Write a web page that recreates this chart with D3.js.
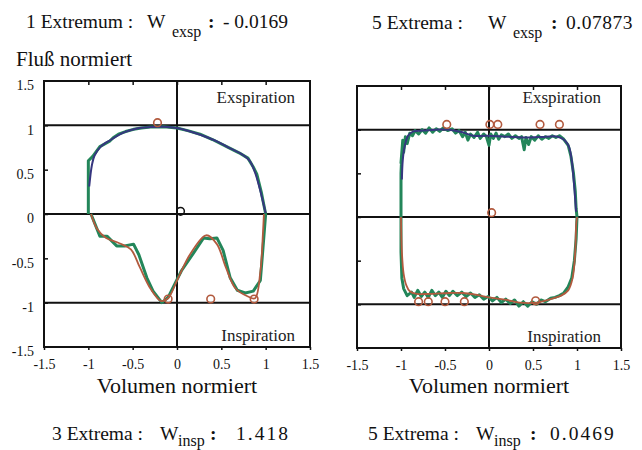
<!DOCTYPE html>
<html>
<head>
<meta charset="utf-8">
<script src="https://cdn.jsdelivr.net/npm/d3@7"></script>
<style>
  body { margin: 0; background: #fff; }
  svg { display: block; font-family: "Liberation Serif", "DejaVu Serif", serif; }
  .tick text { font-family: "Liberation Serif", serif; font-size: 14px; fill: #111; }
  .tick line { stroke: #111; stroke-width: 1.5; }
</style>
</head>
<body>
<script>
// tick values shared by both panels
var xTicks = [-1.5, -1, -0.5, 0, 0.5, 1, 1.5];
var yTicks = [-1.5, -1, -0.5, 0, 0.5, 1, 1.5];
var gridY = [-1, 0, 1];
var gridX = [0];

// left panel: measured (green) and fitted curves (blue = exspiration, red = inspiration)
var leftExpRaw = [[-1.0, 0], [-1.0, 0.6], [-0.95, 0.65], [-0.87, 0.76], [-0.76, 0.82], [-0.72, 0.86],
  [-0.66, 0.9], [-0.58, 0.93], [-0.49, 0.955], [-0.4, 0.97], [-0.3, 0.98], [-0.15, 0.985], [0, 0.97],
  [0.12, 0.94], [0.26, 0.9], [0.4, 0.84], [0.56, 0.76], [0.7, 0.69], [0.8, 0.63], [0.86, 0.53],
  [0.9, 0.45], [0.95, 0.25], [1.0, 0]];
var leftExpFit = [[-0.99, 0.31], [-0.96, 0.55], [-0.93, 0.66], [-0.86, 0.76], [-0.74, 0.84],
  [-0.6, 0.92], [-0.45, 0.965], [-0.3, 0.98], [-0.15, 0.985], [0, 0.97], [0.15, 0.93], [0.3, 0.88],
  [0.45, 0.82], [0.6, 0.74], [0.72, 0.68], [0.82, 0.6], [0.88, 0.47], [0.93, 0.3], [1.0, 0.01]];
var leftInspRaw = [[-0.97, 0], [-0.87, -0.25], [-0.79, -0.25], [-0.68, -0.36], [-0.59, -0.36],
  [-0.49, -0.34], [-0.43, -0.46], [-0.34, -0.72], [-0.27, -0.87], [-0.17, -1.0], [-0.1, -0.94],
  [-0.02, -0.78], [0.05, -0.64], [0.18, -0.45], [0.3, -0.27], [0.37, -0.28], [0.45, -0.27],
  [0.52, -0.41], [0.6, -0.72], [0.68, -0.86], [0.77, -0.89], [0.86, -0.87], [0.94, -0.75],
  [0.97, -0.38], [1.0, 0]];
var leftInspFit = [[-0.97, 0], [-0.9, -0.17], [-0.8, -0.27], [-0.65, -0.33], [-0.52, -0.4],
  [-0.42, -0.6], [-0.3, -0.84], [-0.18, -0.98], [-0.1, -0.95], [0, -0.75], [0.15, -0.45],
  [0.33, -0.24], [0.45, -0.34], [0.55, -0.6], [0.66, -0.84], [0.8, -0.93], [0.88, -0.95],
  [0.94, -0.65], [0.97, -0.2], [0.98, 0]];
var leftExtrema = [[-0.22, 1.03], [-0.1, -0.96], [0.38, -0.96], [0.87, -0.96]];
var leftCentre = [[0.04, 0.03]];

// right panel
var rightExpRaw = [[-1.0, 0], [-1.0, 0.5], [-0.99, 0.74], [-1.0, 0.62], [-0.98, 0.88], [-0.97, 0.74],
  [-0.95, 0.92], [-0.93, 0.84], [-0.9, 0.96], [-0.87, 0.93], [-0.84, 0.99], [-0.8, 0.95],
  [-0.76, 1.0], [-0.72, 0.96], [-0.68, 1.02], [-0.64, 0.97], [-0.6, 1.01], [-0.56, 0.98],
  [-0.52, 1.02], [-0.47, 0.99], [-0.42, 1.01], [-0.38, 0.96], [-0.34, 0.99], [-0.3, 0.92],
  [-0.27, 0.97], [-0.24, 0.88], [-0.21, 0.95], [-0.17, 0.91], [-0.13, 0.97], [-0.1, 0.9],
  [-0.06, 0.95], [-0.03, 0.92], [0.0, 0.82], [0.02, 0.95], [0.05, 0.9], [0.08, 0.96],
  [0.11, 0.89], [0.14, 0.94], [0.18, 0.92], [0.22, 0.95], [0.26, 0.9], [0.3, 0.93], [0.34, 0.9],
  [0.37, 0.92], [0.4, 0.77], [0.42, 0.91], [0.45, 0.83], [0.48, 0.92], [0.52, 0.88], [0.56, 0.93],
  [0.6, 0.89], [0.64, 0.92], [0.68, 0.9], [0.72, 0.93], [0.76, 0.91], [0.8, 0.93], [0.85, 0.89],
  [0.9, 0.82], [0.93, 0.7], [0.96, 0.5], [0.98, 0.3], [0.99, 0.1], [1.0, 0]];
var rightExpFit = [[-0.99, 0.43], [-0.98, 0.65], [-0.96, 0.8], [-0.92, 0.93], [-0.86, 0.98],
  [-0.75, 0.99], [-0.6, 1.0], [-0.45, 1.0], [-0.3, 0.97], [-0.18, 0.93], [-0.02, 0.93],
  [0.2, 0.92], [0.47, 0.91], [0.65, 0.92], [0.78, 0.92], [0.86, 0.88], [0.91, 0.8], [0.94, 0.65],
  [0.96, 0.45], [0.98, 0.2], [0.99, 0.06]];
var rightInspRaw = [[-1.0, 0], [-1.0, -0.4], [-0.99, -0.7], [-0.97, -0.82], [-0.93, -0.9],
  [-0.88, -0.86], [-0.85, -0.92], [-0.81, -0.84], [-0.77, -0.91], [-0.73, -0.86], [-0.69, -0.92],
  [-0.65, -0.84], [-0.61, -0.9], [-0.57, -0.86], [-0.53, -0.92], [-0.49, -0.85], [-0.45, -0.9],
  [-0.41, -0.85], [-0.36, -0.9], [-0.31, -0.86], [-0.26, -0.91], [-0.21, -0.87], [-0.16, -0.92],
  [-0.11, -0.89], [-0.06, -0.94], [-0.01, -0.91], [0.04, -0.96], [0.09, -0.92], [0.14, -0.98],
  [0.19, -0.94], [0.24, -0.99], [0.29, -0.95], [0.34, -1.02], [0.39, -0.97], [0.44, -1.02],
  [0.49, -0.97], [0.54, -1.0], [0.59, -0.95], [0.64, -0.97], [0.7, -0.93], [0.75, -0.92],
  [0.8, -0.9], [0.85, -0.87], [0.9, -0.8], [0.94, -0.7], [0.97, -0.5], [0.99, -0.25], [1.0, 0]];
var rightInspFit = [[-1.0, 0], [-0.99, -0.4], [-0.97, -0.65], [-0.94, -0.78], [-0.9, -0.85],
  [-0.82, -0.88], [-0.67, -0.88], [-0.45, -0.87], [-0.3, -0.87], [-0.15, -0.89], [0.0, -0.92],
  [0.2, -0.95], [0.35, -0.98], [0.54, -0.98], [0.7, -0.94], [0.82, -0.9], [0.9, -0.84],
  [0.95, -0.7], [0.98, -0.4], [0.99, -0.1], [1.0, 0]];
var rightExtrema = [[-0.48, 1.06], [0.01, 1.06], [0.1, 1.06], [0.58, 1.06], [0.8, 1.06],
  [0.03, 0.05], [-0.8, -0.97], [-0.69, -0.97], [-0.5, -0.97], [-0.28, -0.97], [0.53, -0.96]];

var width = 642, height = 450;
var green = '#23865a', blue = '#36367f', red = '#b25a3e';
var fmt = function(d) { return String(d); };

var svg = d3.select('body').append('svg')
  .attr('width', width)
  .attr('height', height);

function drawPanel(p) {
  var x = d3.scaleLinear().domain([-1.5, 1.5]).range([p.left, p.right]);
  var y = d3.scaleLinear().domain([-1.5, 1.5]).range([p.bottom, p.top]);
  var g = svg.append('g');

  // bottom axis with labels
  g.append('g')
    .attr('transform', 'translate(0,' + p.bottom + ')')
    .call(d3.axisBottom(x).tickValues(xTicks).tickSize(3).tickPadding(9).tickFormat(fmt))
    .call(function(a) { a.select('.domain').remove(); });

  // top axis, inner ticks only
  g.append('g')
    .attr('transform', 'translate(0,' + p.top + ')')
    .call(d3.axisTop(x).tickValues(xTicks.slice(1, -1)).tickSize(-4).tickFormat(''))
    .call(function(a) { a.select('.domain').remove(); });

  // left axis
  var ya = d3.axisLeft(y).tickValues(yTicks.slice(1, -1)).tickSize(-4).tickPadding(8);
  if (p.yLabels) ya.tickValues(yTicks).tickFormat(fmt);
  else ya.tickFormat('');
  g.append('g')
    .attr('transform', 'translate(' + p.left + ',0)')
    .call(ya)
    .call(function(a) {
      a.select('.domain').remove();
      a.selectAll('text').attr('dy', '0.62em').attr('x', -10);
      a.selectAll('.tick').filter(function(d) { return Math.abs(d) === 1.5; }).select('line').remove();
    });

  // frame
  g.append('rect')
    .attr('x', x(-1.5)).attr('y', y(1.5))
    .attr('width', x(1.5) - x(-1.5)).attr('height', y(-1.5) - y(1.5))
    .attr('fill', 'none').attr('stroke', '#111').attr('stroke-width', 2);

  // grid lines at 0 and +-1
  g.selectAll('.gy').data(gridY).enter().append('line')
    .attr('x1', x(-1.5)).attr('x2', x(1.5))
    .attr('y1', function(d) { return y(d); }).attr('y2', function(d) { return y(d); })
    .attr('stroke', '#111').attr('stroke-width', 2);
  g.selectAll('.gx').data(gridX).enter().append('line')
    .attr('y1', y(1.5)).attr('y2', y(-1.5))
    .attr('x1', function(d) { return x(d); }).attr('x2', function(d) { return x(d); })
    .attr('stroke', '#111').attr('stroke-width', 2);

  var raw = d3.line().x(function(d) { return x(d[0]); }).y(function(d) { return y(d[1]); });
  var smooth = d3.line().curve(d3.curveCatmullRom.alpha(0.5))
    .x(function(d) { return x(d[0]); }).y(function(d) { return y(d[1]); });

  [p.expRaw, p.inspRaw].forEach(function(s) {
    g.append('path').attr('d', raw(s)).attr('fill', 'none')
      .attr('stroke', green).attr('stroke-width', 3).attr('stroke-linejoin', 'round');
  });
  g.append('path').attr('d', smooth(p.expFit)).attr('fill', 'none')
    .attr('stroke', blue).attr('stroke-width', 2);
  g.append('path').attr('d', smooth(p.inspFit)).attr('fill', 'none')
    .attr('stroke', red).attr('stroke-width', 1.8);

  g.selectAll('.ext').data(p.extrema).enter().append('circle')
    .attr('cx', function(d) { return x(d[0]); })
    .attr('cy', function(d) { return y(d[1]); })
    .attr('r', 3.8).attr('fill', 'none').attr('stroke', red).attr('stroke-width', 1.6);
  if (p.centre) {
    g.selectAll('.ctr').data(p.centre).enter().append('circle')
      .attr('cx', function(d) { return x(d[0]); })
      .attr('cy', function(d) { return y(d[1]); })
      .attr('r', 3.8).attr('fill', 'none').attr('stroke', '#111').attr('stroke-width', 1.5);
  }

  g.append('text').attr('x', p.right - p.labelInset).attr('y', 103)
    .attr('text-anchor', 'end').attr('font-size', 17).attr('fill', '#222').text('Exspiration');
  g.append('text').attr('x', p.right - p.labelInset).attr('y', y(-1.5) - 6)
    .attr('text-anchor', 'end').attr('font-size', 17).attr('fill', '#222').text('Inspiration');

  g.append('text').attr('x', x(0)).attr('y', 393)
    .attr('text-anchor', 'middle').attr('font-size', 22).attr('fill', '#111').text('Volumen normiert');
}

drawPanel({ left: 44, right: 310, top: 81, bottom: 347, yLabels: true, labelInset: 15,
  expRaw: leftExpRaw, expFit: leftExpFit, inspRaw: leftInspRaw, inspFit: leftInspFit,
  extrema: leftExtrema, centre: leftCentre });
drawPanel({ left: 357, right: 621, top: 86, bottom: 348, yLabels: false, labelInset: 20,
  expRaw: rightExpRaw, expFit: rightExpFit, inspRaw: rightInspRaw, inspFit: rightInspFit,
  extrema: rightExtrema });

// headline pieces: label, W, subscript, value
function heading(px, py, size, sub, label, subText, value, pos, spacing) {
  var t = svg.append('text').attr('y', py).attr('font-size', size).attr('fill', '#111');
  t.append('tspan').attr('x', px + pos[0]).text(label);
  t.append('tspan').attr('x', px + pos[1]).text('W');
  t.append('tspan').attr('x', px + pos[2]).attr('dy', sub).attr('font-size', 16).text(subText);
  t.append('tspan').attr('x', px + pos[3]).attr('dy', -sub).attr('font-weight', 'bold').text(':');
  t.append('tspan').attr('x', px + pos[4]).attr('letter-spacing', spacing).text(value);
}
heading(26, 28, 19.5, 9, '1 Extremum :', 'exsp', '- 0.0169', [0, 121, 146, 182, 197], 0);
heading(372, 29, 19.5, 9, '5 Extrema :', 'exsp', '0.07873', [0, 116, 141, 179, 194], 0.5);
heading(52, 440, 19.5, 6, '3 Extrema :', 'insp', '1.418', [0, 108, 126, 158, 184], 2);
heading(368, 440, 19.5, 6, '5 Extrema :', 'insp', '0.0469', [0, 108, 126, 162, 182], 2);

svg.append('text').attr('x', 16).attr('y', 66)
  .attr('font-size', 21).attr('fill', '#111').text('Fluß normiert');
</script>
</body>
</html>
